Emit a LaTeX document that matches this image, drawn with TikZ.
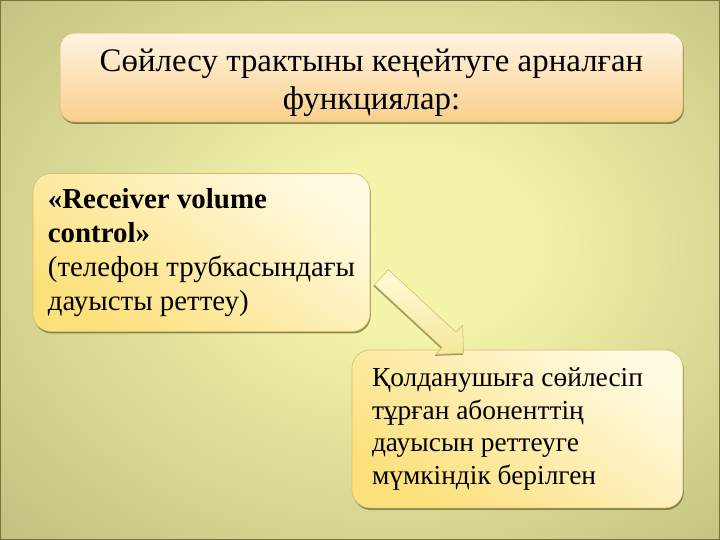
\documentclass[tikz,border=0pt]{standalone}
\usepackage{fontspec}
\setmainfont{Liberation Serif}
\usetikzlibrary{shapes.arrows,shadows}
\definecolor{bglite}{HTML}{F4F4AA}
\definecolor{bgdark}{HTML}{A4A168}
\definecolor{framecol}{HTML}{77733F}
\definecolor{shadecol}{HTML}{5A5626}
\definecolor{boxedge}{HTML}{D8BC6A}
\definecolor{headtop}{HTML}{FFF4E2}
\definecolor{headbot}{HTML}{F9CF8C}
\definecolor{cardtop}{HTML}{FFFAE0}
\definecolor{cardbot}{HTML}{FCE07C}
\definecolor{arwtop}{HTML}{FFFBD8}
\definecolor{arwbot}{HTML}{F5E79C}
\pgfdeclareradialshading{bgshade}{\pgfpoint{4bp}{3bp}}{color(0bp)=(bglite); color(8bp)=(bglite); color(54bp)=(bgdark)}

\begin{document}
\begin{tikzpicture}[x=1bp,y=1bp,
    box/.style={draw=boxedge, line width=.6bp, rounded corners=18bp,
      drop shadow={shadow xshift=.8bp, shadow yshift=-2bp, fill=shadecol, opacity=.65}},
    card/.style={box, top color=cardtop, bottom color=cardbot, shading angle=-35,
      minimum height=158bp, align=flush left, font=\fontsize{29}{34}\selectfont}]
  \useasboundingbox (0,0) rectangle (720,540);
  \shade[shading=bgshade] (0,0) rectangle (720,540);
  \draw[framecol, line width=1bp] (.5,.5) rectangle (719.5,539.5);

  \node (head) at (371.5,462.5) [box, rounded corners=15bp, top color=headtop, bottom color=headbot,
      minimum width=623bp, minimum height=89bp, align=center, font=\fontsize{33}{38}\selectfont]
      {\rule{0pt}{33bp}Сөйлесу трактыны кеңейтуге арналған\\функциялар:};
  \node (vol) at (201.5,287.5) [card, minimum width=337bp]
      {\textbf{«Receiver volume}\\\textbf{control»}\\(телефон трубкасындағы\\дауысты реттеу)};
  \node (res) at (517.5,111) [card, text width=291bp, inner xsep=20bp, font=\fontsize{27.5}{33}\selectfont]
      {Қолданушыға сөйлесіп\\тұрған абоненттің\\дауысын реттеуге\\мүмкіндік берілген};

  \node (arw) at (418.75,228.25) [single arrow, rotate=-42.8, draw=boxedge, line width=.6bp,
      top color=arwtop, bottom color=arwbot, minimum height=112bp, minimum width=39bp,
      inner xsep=0pt, inner ysep=10bp, single arrow head extend=9.5bp, single arrow tip angle=90,
      drop shadow={shadow xshift=-.8bp, shadow yshift=-1.5bp, fill=shadecol, opacity=.6}] {};
\end{tikzpicture}
\end{document}
